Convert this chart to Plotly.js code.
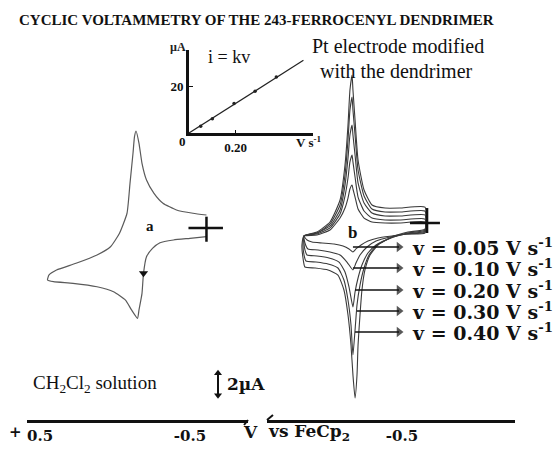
<!DOCTYPE html>
<html><head><meta charset="utf-8">
<script src="https://cdn.plot.ly/plotly-3.0.1.min.js"></script>
<style>html,body{margin:0;padding:0;background:#fff}#chart{width:560px;height:449px}</style>
</head><body><div id="chart"></div>
<script>
const titleText = 'CYCLIC VOLTAMMETRY OF THE 243-FERROCENYL DENDRIMER';

// Inset: peak current vs scan rate
const insetRate = [0.05, 0.10, 0.193, 0.283, 0.374];
const insetCurrent = [2.9, 6.2, 12.7, 18.0, 24.2];
const insetFitRate = [0, 0.49];
const insetFitCurrent = [0, 31.4];

// Curve a: CH2Cl2 solution (potential V, current uA)
const aPotential = [-0.61,-0.52,-0.41,-0.32,-0.26,-0.21,-0.18,-0.16,-0.14,-0.13,-0.12,-0.10,-0.08,-0.03,0.03,0.12,0.26,0.39,0.44,0.45,0.41,0.28,0.12,0.01,-0.07,-0.11,-0.15,-0.16,-0.18,-0.19,-0.21,-0.25,-0.30,-0.39,-0.50,-0.61];
const aCurrent = [1.18,1.34,1.64,2.25,3.15,4.36,5.88,7.70,8.82,8.30,6.79,4.06,1.34,-0.48,-1.70,-2.45,-3.21,-3.82,-4.27,-4.73,-4.88,-5.03,-5.34,-5.79,-6.55,-7.45,-8.21,-7.45,-5.94,-4.12,-2.61,-1.85,-1.34,-1.09,-0.94,-0.79];
const aArrowPotential = [-0.19];
const aArrowCurrent = [-4.12];
const aCrossHPotential = [-0.49, -0.72];
const aCrossHCurrent = [0, 0];
const aCrossVPotential = [-0.61, -0.61];
const aCrossVCurrent = [1.03, -1.25];

// Curves b: modified Pt electrode, one loop per scan rate
const b005E = [-0.653,-0.487,-0.387,-0.3,-0.247,-0.207,-0.187,-0.173,-0.167,-0.153,-0.14,-0.12,-0.087,-0.02,0.067,0.153,0.133,0.1,0.033,-0.047,-0.107,-0.147,-0.173,-0.193,-0.227,-0.273,-0.34,-0.433,-0.533,-0.653,-0.653];
const b005I = [0.09,0,0,0.09,0.45,1.27,2.36,3.09,3.45,3.09,2.27,1.36,0.45,-0.64,-1.09,-1.18,-1.55,-1.73,-1.82,-1.91,-2.09,-2.36,-2.64,-2.36,-2.0,-1.64,-1.36,-1.18,-1.0,-0.91,0.09];
const b010E = [-0.653,-0.487,-0.387,-0.3,-0.247,-0.207,-0.187,-0.173,-0.167,-0.153,-0.14,-0.12,-0.087,-0.02,0.067,0.153,0.147,0.127,0.06,-0.02,-0.087,-0.133,-0.173,-0.193,-0.22,-0.267,-0.327,-0.42,-0.527,-0.653,-0.653];
const b010I = [0.36,0.27,0.27,0.45,1.09,2.36,4.18,5.55,6.18,5.55,4.09,2.45,0.82,-0.45,-1.0,-1.18,-1.82,-2.36,-2.45,-2.64,-2.91,-3.55,-4.27,-3.64,-2.91,-2.18,-1.64,-1.27,-1.0,-0.82,0.36];
const b020E = [-0.653,-0.487,-0.387,-0.3,-0.247,-0.207,-0.187,-0.173,-0.167,-0.153,-0.14,-0.12,-0.087,-0.02,0.067,0.153,0.153,0.147,0.133,0.067,-0.013,-0.08,-0.12,-0.147,-0.173,-0.187,-0.207,-0.233,-0.273,-0.327,-0.42,-0.527,-0.653,-0.653];
const b020I = [0.73,0.64,0.64,0.91,1.82,3.64,6.18,8.0,8.91,8.0,5.91,3.45,1.18,-0.27,-0.91,-1.18,-1.91,-2.45,-2.91,-3.0,-3.18,-3.55,-4.45,-5.82,-7.64,-6.27,-5.0,-3.82,-2.73,-2.0,-1.36,-1.0,-0.73,0.73];
const b030E = [-0.653,-0.487,-0.387,-0.3,-0.247,-0.207,-0.187,-0.173,-0.167,-0.153,-0.14,-0.12,-0.087,-0.02,0.067,0.153,0.16,0.153,0.14,0.073,-0.007,-0.073,-0.113,-0.14,-0.16,-0.173,-0.187,-0.2,-0.22,-0.247,-0.28,-0.333,-0.427,-0.533,-0.653,-0.653];
const b030I = [1.09,1.0,1.0,1.27,2.45,4.82,8.0,10.27,11.45,10.27,7.55,4.36,1.64,-0.09,-0.91,-1.18,-2.0,-2.91,-3.45,-3.55,-3.73,-4.09,-5.18,-7.0,-9.27,-12.0,-9.73,-7.45,-5.64,-4.09,-2.91,-2.0,-1.36,-0.91,-0.64,1.09];
const b040E = [-0.653,-0.487,-0.387,-0.3,-0.247,-0.207,-0.187,-0.173,-0.167,-0.153,-0.14,-0.12,-0.087,-0.02,0.067,0.153,0.167,0.16,0.147,0.08,-0.007,-0.073,-0.113,-0.14,-0.16,-0.173,-0.187,-0.2,-0.207,-0.22,-0.233,-0.253,-0.287,-0.34,-0.433,-0.54,-0.653,-0.653];
const b040I = [1.45,1.36,1.36,1.64,3.0,5.73,9.36,12.09,13.45,12.09,8.91,5.27,2.09,0.09,-0.82,-1.18,-2.0,-3.18,-4.0,-4.09,-4.27,-4.73,-6.09,-8.36,-11.09,-13.82,-15.91,-13.82,-11.09,-8.36,-6.09,-4.27,-2.91,-2.0,-1.27,-0.82,-0.55,1.45];
const bCrossHPotential = [-0.553, -0.753];
const bCrossHCurrent = [0, 0];
const bCrossVPotential = [-0.667, -0.667];
const bCrossVCurrent = [1.36, -0.91];

// Scan-rate labels and where their arrows sit
const scanRates = ['0.05', '0.10', '0.20', '0.30', '0.40'];
const labelCurrent = [-2.18, -4.09, -6.09, -8.0, -9.91];
const arrowTailPotential = [-0.173, -0.173, -0.187, -0.2, -0.187];
const arrowHeadPotential = -0.48;
const labelPotential = -0.553;

// Scale bar (uA)
const scaleBarCenter = -14.2;
const scaleBarUA = 2;
const scaleBarPotential = -0.687;

const bLoops = [[b005E,b005I],[b010E,b010I],[b020E,b020I],[b030E,b030I],[b040E,b040I]];

const traces = [];
traces.push({x:aPotential, y:aCurrent, xaxis:'x', yaxis:'y', mode:'lines',
  line:{color:'#5a5a5a', width:1.2, shape:'spline', smoothing:0.5}, hoverinfo:'skip'});
traces.push({x:aArrowPotential, y:aArrowCurrent, xaxis:'x', yaxis:'y', mode:'markers',
  marker:{symbol:'triangle-down', size:8, color:'#111'}, hoverinfo:'skip'});
traces.push({x:aCrossHPotential, y:aCrossHCurrent, xaxis:'x', yaxis:'y', mode:'lines', line:{color:'#111', width:2.5}});
traces.push({x:aCrossVPotential, y:aCrossVCurrent, xaxis:'x', yaxis:'y', mode:'lines', line:{color:'#111', width:2.5}});
bLoops.forEach(([e,i]) => traces.push({x:e, y:i, xaxis:'x2', yaxis:'y2', mode:'lines',
  line:{color:'#3a3a3a', width:1.1, shape:'spline', smoothing:0.5}, hoverinfo:'skip'}));
traces.push({x:bCrossHPotential, y:bCrossHCurrent, xaxis:'x2', yaxis:'y2', mode:'lines', line:{color:'#111', width:2.5}});
traces.push({x:bCrossVPotential, y:bCrossVCurrent, xaxis:'x2', yaxis:'y2', mode:'lines', line:{color:'#111', width:2.5}});
traces.push({x:insetFitRate, y:insetFitCurrent, xaxis:'x3', yaxis:'y3', mode:'lines', line:{color:'#222', width:1.2}});
traces.push({x:insetRate, y:insetCurrent, xaxis:'x3', yaxis:'y3', mode:'markers', marker:{size:3.5, color:'#222'}});
// legend arrows (line + arrowhead marker)
scanRates.forEach((r, k) => traces.push({x:[arrowTailPotential[k], arrowHeadPotential], y:[labelCurrent[k], labelCurrent[k]],
  xaxis:'x2', yaxis:'y2', mode:'lines+markers', line:{color:'#111', width:1.3},
  marker:{symbol:['circle','triangle-right'], size:[0, 9], color:'#111', line:{width:0}}}));
// scale bar double arrow
traces.push({x:[scaleBarPotential, scaleBarPotential], y:[scaleBarCenter + scaleBarUA/2, scaleBarCenter - scaleBarUA/2],
  xaxis:'x', yaxis:'y', mode:'lines+markers', line:{color:'#111', width:2},
  marker:{symbol:['triangle-up','triangle-down'], size:7, color:'#111', line:{width:0}}});

const W = 560, H = 449;
const px = v => v / W, py = v => 1 - v / H;
const serif = 'Liberation Serif, Times New Roman, serif';
const wide = 'DejaVu Serif, serif';
const tickFontBig = {family: wide, size: 15, color: '#111', weight: 'bold'};
const P = (x, y, text, font, extra) => Object.assign({xref:'paper', yref:'paper', x:px(x), y:py(y), xanchor:'center', yanchor:'middle',
  showarrow:false, text:text, font:font}, extra || {});

const annotations = [
  P(17, 20, titleText, {family:serif, size:15, color:'#111', weight:'bold'}, {xanchor:'left'}),
  P(178, 47, 'µA', {family:serif, size:12, color:'#222', weight:'bold'}),
  P(229, 57, 'i = kv', {family:serif, size:18, color:'#111'}),
  P(182, 142, '0', {family:serif, size:13, color:'#111', weight:'bold'}),
  P(308, 142, 'V s<sup>-1</sup>', {family:serif, size:13, color:'#111', weight:'bold'}),
  P(398, 46, 'Pt electrode modified', {family:serif, size:20, color:'#111'}),
  P(396, 71, 'with the dendrimer', {family:serif, size:20, color:'#111'}),
  {xref:'x', yref:'y', x:-0.233, y:0.18, xanchor:'center', yanchor:'middle', showarrow:false, text:'a', font:{family:serif, size:15, color:'#111', weight:'bold'}},
  {xref:'x2', yref:'y2', x:-0.167, y:-0.82, xanchor:'center', yanchor:'middle', showarrow:false, text:'b', font:{family:serif, size:17, color:'#111', weight:'bold'}},
  P(95, 384, 'CH<sub>2</sub>Cl<sub>2</sub> solution', {family:serif, size:19, color:'#111'}),
  {xref:'x', yref:'y', x:-0.733, y:scaleBarCenter, xanchor:'left', yanchor:'middle', showarrow:false, text:'2µA', font:{family:wide, size:17, color:'#111', weight:'bold'}},
  P(15, 432, '+', {family:wide, size:15, color:'#111', weight:'bold'}),
  P(250, 432, 'V', {family:wide, size:17, color:'#111', weight:'bold'}),
  P(266, 432, 'vs FeCp<sub>2</sub>', {family:wide, size:17, color:'#111', weight:'bold'}, {xanchor:'left'}),
];
scanRates.forEach((r, k) => {
  annotations.push({xref:'x2', yref:'y2', x:labelPotential, y:labelCurrent[k], xanchor:'left', yanchor:'middle', showarrow:false,
    text:'v = ' + r + ' V s<sup>-1</sup>', font:{family:wide, size:19, color:'#111', weight:'bold'}});
});

const shapes = [
  {type:'line', xref:'paper', yref:'paper', x0:px(248), y0:py(420), x1:px(244), y1:py(425), line:{color:'#111', width:2}},
  {type:'line', xref:'paper', yref:'paper', x0:px(267), y0:py(420), x1:px(273), y1:py(415), line:{color:'#111', width:2}},
];

const axisBase = {showgrid:false, zeroline:false, showline:true, linecolor:'#111', fixedrange:true};
const layout = {
  width:W, height:H, margin:{l:0, r:0, t:0, b:0}, paper_bgcolor:'#fff', plot_bgcolor:'rgba(0,0,0,0)', showlegend:false,
  xaxis:Object.assign({}, axisBase, {domain:[27/W, 248/W], range:[0.587, -0.887], anchor:'y', linewidth:2.5, ticks:'',
    tickvals:[0.5, -0.5], ticktext:['0.5', '-0.5'], tickfont:tickFontBig}),
  yaxis:{domain:[29/H, 1], range:[-17.455, 20.727], visible:false, fixedrange:true},
  xaxis2:Object.assign({}, axisBase, {domain:[267/W, 515/W], range:[0.4, -1.2533], anchor:'y2', linewidth:2.5, ticks:'',
    tickvals:[-0.5], ticktext:['-0.5'], tickfont:tickFontBig}),
  yaxis2:{range:[-17.909, 20.273], overlaying:'y', anchor:'x2', visible:false, fixedrange:true},
  xaxis3:Object.assign({}, axisBase, {domain:[189/W, 313/W], range:[0, 0.531], anchor:'y3', linewidth:3,
    ticks:'inside', ticklen:3, tickcolor:'#111', tickvals:[0.2], ticktext:['0.20'],
    tickfont:{family:serif, size:13, color:'#111', weight:'bold'}}),
  yaxis3:Object.assign({}, axisBase, {domain:[1-133/H, 1-50/H], range:[0, 35.85], anchor:'x3', linewidth:3,
    ticks:'inside', ticklen:4, tickcolor:'#111', tickvals:[20], ticktext:['20'],
    tickfont:{family:serif, size:13, color:'#111', weight:'bold'}}),
  annotations:annotations, shapes:shapes,
};
Plotly.newPlot('chart', traces, layout, {staticPlot:true, displayModeBar:false});
</script></body></html>
